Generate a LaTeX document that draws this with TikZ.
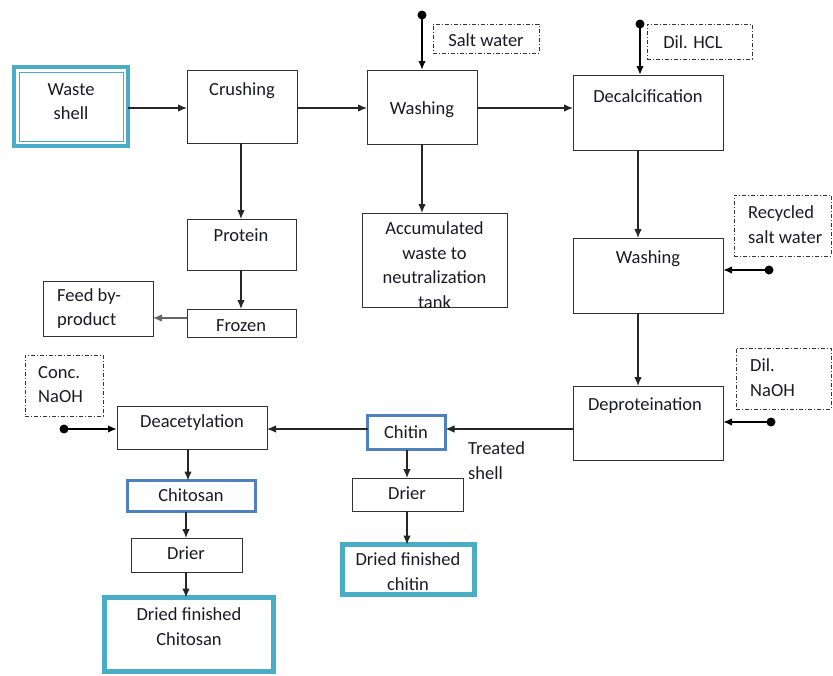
\documentclass[tikz,border=0pt]{standalone}
\usepackage{fontspec}
\setmainfont{Carlito}
\usetikzlibrary{arrows.meta}
\definecolor{aquabd}{HTML}{4BACC6}
\definecolor{bluebd}{HTML}{4F81BD}
\definecolor{ink}{HTML}{1A1A24}
\newcommand\mybox[6][]{\node[box,#1,minimum width={(#5-#3)*1pt},minimum height={(#6-#4)*1pt}] (#2) at ({(#3+#5)/2},{(#4+#6)/2}) {};}
\tikzset{
  box/.style={draw=black!80, line width=1pt, inner sep=0pt, outer sep=0pt, rectangle},
  feedbox/.style={box, draw=aquabd, line width=5pt},
  prodbox/.style={box, draw=bluebd, line width=3pt},
  inputbox/.style={box, line width=0.8pt, dash pattern=on 4pt off 2pt on 1pt off 2pt},
  txt/.style={font=\fontsize{18.5}{24.5}\selectfont, inner sep=0pt, text=ink, align=center},
  ltxt/.style={txt, align=left, anchor=west},
  arr/.style={-{Latex[length=9pt,width=7.5pt]}, line width=1.2pt, draw=black!85},
  dotarr/.style={-{Latex[length=9pt,width=7.5pt]}, line width=1.8pt},
  dot/.style={fill=black}
}
\begin{document}
\begin{tikzpicture}[x=1pt,y=-1pt]
\useasboundingbox (0,0) rectangle (833,675);
% boxes
\mybox[draw=aquabd,line width=4.5pt]{waste}{14}{67}{128}{146}
\draw[aquabd, line width=1pt] ([shift={(5pt,-5pt)}]waste.north west) rectangle ([shift={(-5pt,5pt)}]waste.south east);
\mybox{crush}{187}{70}{297}{143}
\mybox{wash1}{367}{70}{477}{144}
\mybox[inputbox]{salt}{433}{24}{539}{53}
\mybox{decal}{573}{75}{723}{150}
\mybox[inputbox]{hcl}{647}{24}{752}{59}
\mybox{wash2}{573}{238}{723}{313}
\mybox[inputbox]{recyc}{734}{195}{831}{256}
\mybox{deprot}{573}{386}{723}{460}
\mybox[inputbox]{dilnaoh}{736}{348}{831}{409}
\mybox[prodbox]{chitin}{367.5}{415.5}{445.5}{449.5}
\mybox{deacet}{117}{406}{267}{449}
\mybox[inputbox]{conc}{25}{355}{103}{416}
\mybox[prodbox]{chitosan}{127.5}{480.5}{255.5}{511.5}
\mybox{drier1}{131}{538}{242}{572}
\mybox[feedbox]{dfchitosan}{104.5}{597.5}{273.5}{671.5}
\mybox{drier2}{352}{478}{463}{511}
\mybox[feedbox]{dfchitin}{342.5}{544.5}{474.5}{594.5}
\mybox{protein}{187}{219}{296}{270}
\mybox{frozen}{187}{309}{296}{337}
\mybox{feed}{43}{281}{153}{336}
\mybox{accum}{362}{213}{507}{307}
% texts
\node[txt] (t-waste) at (71,101.5) {Waste\\shell};
\node[txt] (t-crush) at (242,91) {Crushing};
\node[txt] (t-wash1) at (422,110) {Washing};
\node[txt] (t-salt) at (486,40) {Salt water};
\node[txt] (t-decal) at (648,96) {Decalcification};
\node[txt] (t-hcl) at (693,42) {Dil. HCL};
\node[txt] (t-wash2) at (648,259) {Washing};
\node[ltxt] (t-recyc) at (748,224.5) {Recycled\\salt water};
\node[txt] (t-deprot) at (645,406) {Deproteination};
\node[ltxt] (t-dilnaoh) at (750,377.5) {Dil.\\NaOH};
\node[txt] (t-chitin) at (406,432) {Chitin};
\node[ltxt] (t-treated) at (468,460.5) {Treated\\shell};
\node[txt] (t-deacet) at (192,423) {Deacetylation};
\node[ltxt] (t-conc) at (38,384.5) {Conc.\\NaOH};
\node[txt] (t-chitosan) at (191,495) {Chitosan};
\node[txt] (t-drier1) at (186,553) {Drier};
\node[txt] (t-dfchitosan) at (189,626.5) {Dried finished\\Chitosan};
\node[txt] (t-drier2) at (407,493) {Drier};
\node[txt] (t-dfchitin) at (408,571.5) {Dried finished\\chitin};
\node[txt] (t-protein) at (241,235) {Protein};
\node[txt] (t-frozen) at (241,326) {Frozen};
\node[ltxt] (t-feed) at (57,308.5) {Feed by-\\product};
\node[txt] (t-accum) at (434.5,265) {Accumulated\\waste to\\neutralization\\tank};
% helper coordinates
\coordinate (ty) at (0,108);
\coordinate (ly) at (0,429);
\coordinate (fy) at (0,318);
\coordinate (dx) at (638,0);
\coordinate (cx) at (188,0);
\coordinate (cx2) at (186,0);
\coordinate (px) at (241,0);
\coordinate (chx) at (407,0);
\coordinate (wx) at (422,0);
\coordinate (sdot) at (422,15);
\coordinate (hdot) at (640,24);
\coordinate (rdot) at (769,270);
\coordinate (ndot) at (771,422);
\coordinate (cdot) at (64,429);
% connectors
\draw[arr] (waste.east |- ty) -- (crush.west |- ty);
\draw[arr] (crush.east |- ty) -- (wash1.west |- ty);
\draw[arr] (wash1.east |- ty) -- (decal.west |- ty);
\draw[arr] (crush.south -| px) -- (protein.north -| px);
\draw[arr] (protein.south -| px) -- (frozen.north -| px);
\draw[arr, draw=black!60] (frozen.west |- fy) -- (feed.east |- fy);
\draw[arr] (wash1.south -| wx) -- (accum.north -| wx);
\draw[arr] (decal.south -| dx) -- (wash2.north -| dx);
\draw[arr] (wash2.south -| dx) -- (deprot.north -| dx);
\draw[arr] (deprot.west |- ly) -- (chitin.east |- ly);
\draw[arr] (chitin.west |- ly) -- (deacet.east |- ly);
\draw[arr] (deacet.south -| cx) -- (chitosan.north -| cx);
\draw[arr] (chitosan.south -| cx2) -- (drier1.north -| cx2);
\draw[arr] (drier1.south -| cx2) -- (dfchitosan.north -| cx2);
\draw[arr] (chitin.south -| chx) -- (drier2.north -| chx);
\draw[arr] (drier2.south -| chx) -- (dfchitin.north -| chx);
% input feeds with dots
\draw[dotarr] (sdot) -- (wash1.north -| sdot);
\draw[dotarr] (hdot) -- (decal.north -| hdot);
\draw[dotarr] (rdot) -- (wash2.east |- rdot);
\draw[dotarr] (ndot) -- (deprot.east |- ndot);
\draw[dotarr] (cdot) -- (deacet.west |- cdot);
\fill (sdot) circle (4.5pt);
\fill (hdot) circle (4.5pt);
\fill (rdot) circle (4.5pt);
\fill (ndot) circle (4.5pt);
\fill (cdot) circle (4.5pt);
\end{tikzpicture}
\end{document}
